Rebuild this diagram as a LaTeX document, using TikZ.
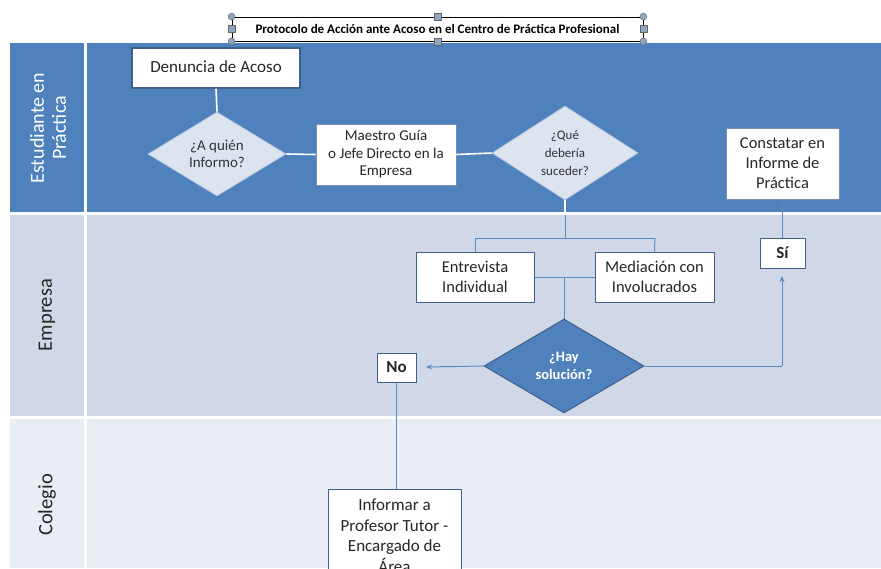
\documentclass[tikz,border=0pt]{standalone}
\usepackage{fontspec}
\setmainfont{Carlito}
\usetikzlibrary{shapes.geometric,arrows.meta}
\definecolor{laneblue}{HTML}{4F81BD}
\definecolor{lanemid}{HTML}{D0D8E8}
\definecolor{lanelight}{HTML}{E9EDF4}
\definecolor{dfill}{HTML}{DCE4F0}
\definecolor{dborder}{HTML}{B4C5DE}
\definecolor{bdark}{HTML}{3F5F8C}
\definecolor{conn}{HTML}{5A8AC6}
\definecolor{handle}{HTML}{8FA5C4}
\tikzset{
  box/.style={draw=bdark, line width=1pt, fill=white, align=center, inner sep=1pt, text=black!85},
  ldiam/.style={diamond, draw=dborder, line width=0.8pt, fill=dfill, align=center, inner sep=0pt, text=black!80},
  wline/.style={draw=white, line width=1.6pt},
  cline/.style={draw=conn, line width=1pt},
  carrow/.style={cline, -{Stealth[length=6pt,width=5pt]}},
  lanelabel/.style={rotate=90, align=center, font=\fontsize{20}{22}\selectfont},
  hcirc/.style={circle, draw=black!60, fill=handle, inner sep=0pt, minimum size=7pt},
  hsq/.style={rectangle, draw=black!60, fill=handle, inner sep=0pt, minimum size=7pt}
}
\begin{document}
\begin{tikzpicture}[x=1pt,y=-1pt]
\useasboundingbox (0,0) rectangle (881,568);
\begin{scope}
\clip (0,0) rectangle (881,568);
% lanes
\fill[laneblue] (10,43) rectangle (84,212);
\fill[laneblue] (87,43) rectangle (881,212);
\fill[lanemid] (10,215) rectangle (84,416);
\fill[lanemid] (87,215) rectangle (881,416);
\fill[lanelight] (10,419) rectangle (84,568);
\fill[lanelight] (87,419) rectangle (881,568);
\node[lanelabel, text=white] (l1) at (48,128) {Estudiante en\\Práctica};
\node[lanelabel, text=black!85, font=\fontsize{20.5}{22}\selectfont] (l2) at (47,315) {Empresa};
\node[lanelabel, text=black!85, font=\fontsize{20.5}{22}\selectfont] (l3) at (47,505) {Colegio};

% title
\node[draw=black, line width=0.8pt, fill=white, minimum width=411pt, minimum height=24pt, inner sep=0pt, font=\bfseries\fontsize{13}{15}\selectfont] (title) at (437.5,29) {Protocolo de Acción ante Acoso en el Centro de Práctica Profesional};
\node[hcirc] (h1) at (title.north west) {};
\node[hcirc] (h2) at (title.north east) {};
\node[hcirc] (h3) at (title.south west) {};
\node[hcirc] (h4) at (title.south east) {};
\node[hsq] (h5) at (title.north) {};
\node[hsq] (h6) at (title.south) {};
\node[hsq] (h7) at (title.west) {};
\node[hsq] (h8) at (title.east) {};

% top lane
\node[box, minimum width=168pt, minimum height=40pt, font=\fontsize{17}{20}\selectfont, line width=1.5pt, draw=bdark] (den) at (216,68) {\raisebox{3pt}{Denuncia de Acoso}};
\node[ldiam, minimum width=138pt, minimum height=84pt, font=\fontsize{15}{17}\selectfont] (quien) at (217,154) {¿A quién\\Informo?};
\node[box, draw=bdark!70, line width=0.8pt, minimum width=140pt, minimum height=61pt, font=\fontsize{15}{17.5}\selectfont] (maestro) at (386,154.5) {Maestro Guía\\o Jefe Directo en la\\Empresa};
\node[ldiam, minimum width=146pt, minimum height=94pt, font=\fontsize{13}{18}\selectfont] (que) at (565,153) {¿Qué\\debería\\suceder?};
\node[box, draw=bdark!70, line width=0.8pt, minimum width=113pt, minimum height=71pt, font=\fontsize{16.5}{20}\selectfont] (const) at (782.5,163.5) {Constatar en\\Informe de\\Práctica};

\draw[wline] (den.south) -- (quien.north);
\draw[wline] (quien.east) -- (maestro.west);
\draw[wline] (maestro.east) -- (que.west);

% middle lane
\node[box, draw=bdark, line width=1pt, minimum width=118pt, minimum height=50pt, font=\fontsize{16.5}{20}\selectfont] (entre) at (475,277) {Entrevista\\Individual};
\node[box, draw=bdark, line width=1pt, minimum width=119pt, minimum height=50pt, font=\fontsize{16.5}{20}\selectfont] (medi) at (654.5,277) {Mediación con\\Involucrados};
\node[diamond, draw=bdark, line width=1pt, fill=laneblue, minimum width=160pt, minimum height=94pt, inner sep=0pt, align=center, text=white, font=\bfseries\fontsize{14.5}{18}\selectfont] (hay) at (564,366) {¿Hay\\solución?};
\node[box, draw=bdark, line width=1pt, minimum width=39pt, minimum height=29pt, inner sep=0pt, font=\bfseries\fontsize{17}{18}\selectfont] (no) at (396.5,367.5) {No};
\node[box, draw=bdark, line width=1pt, minimum width=45pt, minimum height=30pt, inner sep=0pt, font=\bfseries\fontsize{17}{18}\selectfont] (si) at (782.5,253) {Sí};

\coordinate (qb) at (565,238);
\coordinate (qbl) at (475,238);
\coordinate (qbr) at (655,238);
\draw[wline, line width=1.2pt] (que.south) -- (565,215);
\draw[cline] (565,215) -- (qb);
\draw[cline] (qbl) -- (qbr);
\draw[cline] (qbl) -- (entre.north);
\draw[cline] (qbr) -- (medi.north);
\draw[cline] (entre.east) -- (medi.west);
\coordinate (mid) at (564,277);
\draw[cline] (mid) -- (hay.north);

\coordinate (noend) at (426,367);
\draw[carrow] (hay.west) -- (noend);
\coordinate (sicorner) at (782,366);
\coordinate (siend) at (782,276);
\draw[cline] (hay.east) -- (sicorner);
\draw[carrow] (sicorner) -- (siend);
\draw[cline] (si.north) -- (const.south);

% bottom lane
\node[box, draw=bdark, line width=1pt, minimum width=133pt, minimum height=100pt, anchor=north, font=\fontsize{17}{20.5}\selectfont] (inf) at (394.5,489) {\\[-16pt]Informar a\\Profesor Tutor -\\Encargado de\\Área};
\draw[cline] (no.south) -- (inf.north -| no.south);
\end{scope}
\end{tikzpicture}
\end{document}
